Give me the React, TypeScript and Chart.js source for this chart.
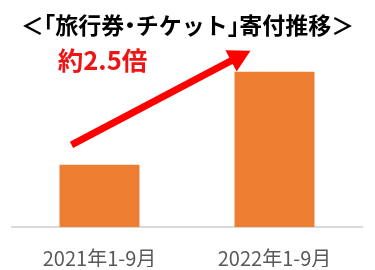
import React, { useEffect, useRef } from "react";
import { Chart, registerables } from "chart.js";

Chart.register(...registerables);

const categories = ["2021年1-9月", "2022年1-9月"];
const donationIndex = [1.0, 2.5];
const titleText = "＜「旅行券・チケット」寄付推移＞";
const growthLabel = "約2.5倍";

const BAR_COLOR = "#ED7D31";
const ARROW_COLOR = "#FF0000";
const FONT = "'Noto Sans CJK JP', 'Noto Sans', sans-serif";

// Brackets and the middle dot take a half-width cell in the heading.
const HALF_CELL: Record<string, number> = { "「": -0.5, "」": 0, "・": -0.25 };

const heading = {
  id: "heading",
  afterDraw(chart: any) {
    const ctx = chart.ctx;
    const size = 23;
    ctx.save();
    ctx.font = `bold ${size}px ${FONT}`;
    ctx.fillStyle = "#000000";
    ctx.textAlign = "left";
    ctx.textBaseline = "middle";
    const chars = Array.from(titleText);
    const adv = chars.map((c) => (c in HALF_CELL ? size * 0.5 : ctx.measureText(c).width));
    const total = adv.reduce((a, b) => a + b, 0);
    let x = chart.width / 2 - total / 2;
    chars.forEach((c, i) => {
      const shift = c in HALF_CELL ? HALF_CELL[c] * size : 0;
      ctx.fillText(c, x + shift, 25);
      x += adv[i];
    });
    ctx.restore();
  },
};

// Red growth arrow from the first bar to the second, with its caption.
const growthArrow = {
  id: "growthArrow",
  afterDatasetsDraw(chart: any) {
    const meta = chart.getDatasetMeta(0);
    const b1 = meta.data[0];
    const b2 = meta.data[1];
    if (!b1 || !b2) return;
    const w = b1.width;
    const sx = b1.x - 0.35 * w;
    const sy = b1.y - 20;
    const tx = b2.x - 0.3 * w;
    const ty = b2.y - 21;
    const dx = tx - sx;
    const dy = ty - sy;
    const len = Math.hypot(dx, dy);
    const ux = dx / len;
    const uy = dy / len;
    const nx = -uy;
    const ny = ux;
    const headLen = 22;
    const headHalf = 12;
    const bx = tx - ux * headLen;
    const by = ty - uy * headLen;
    const ctx = chart.ctx;
    ctx.save();
    ctx.strokeStyle = ARROW_COLOR;
    ctx.lineWidth = 7;
    ctx.lineCap = "butt";
    ctx.beginPath();
    ctx.moveTo(sx, sy);
    ctx.lineTo(bx + ux * 2, by + uy * 2);
    ctx.stroke();
    ctx.fillStyle = ARROW_COLOR;
    ctx.beginPath();
    ctx.moveTo(tx, ty);
    ctx.lineTo(bx + nx * headHalf, by + ny * headHalf);
    ctx.lineTo(bx - nx * headHalf, by - ny * headHalf);
    ctx.closePath();
    ctx.fill();

    ctx.fillStyle = "#EE1414";
    ctx.font = `bold 25.5px ${FONT}`;
    ctx.textAlign = "center";
    ctx.textBaseline = "middle";
    ctx.fillText(growthLabel, b1.x + 3, b2.y - 11);
    ctx.restore();
  },
};

export default function App() {
  const canvasRef = useRef<HTMLCanvasElement | null>(null);

  useEffect(() => {
    document.body.style.margin = "0";
    const canvas = canvasRef.current;
    if (!canvas) return;
    const chart = new Chart(canvas, {
      type: "bar",
      data: {
        labels: categories,
        datasets: [
          {
            data: donationIndex,
            backgroundColor: BAR_COLOR,
            borderWidth: 0,
            barPercentage: 1,
            categoryPercentage: 0.457,
          },
        ],
      },
      options: {
        animation: false,
        responsive: false,
        maintainAspectRatio: false,
        layout: { padding: { left: 12, right: 13, top: 53, bottom: 3 } },
        plugins: {
          legend: { display: false },
          tooltip: { enabled: false },
          title: { display: false },
        },
        scales: {
          x: {
            grid: { display: false, drawTicks: false },
            border: { display: true, color: "#D9D9D9", width: 2 },
            ticks: {
              color: "#595959",
              font: { family: FONT, size: 20, lineHeight: 1.2 },
              padding: 19,
            },
            afterFit(scale: any) {
              scale.height = 40;
            },
          },
          y: {
            display: false,
            min: 0,
            max: 2.8,
          },
        },
      },
      plugins: [growthArrow, heading],
    });
    return () => chart.destroy();
  }, []);

  return (
    <div style={{ position: "absolute", left: 0, top: 0, width: 375, height: 270, background: "#fff" }}>
      <canvas ref={canvasRef} width={375} height={270} style={{ width: 375, height: 270 }} />
    </div>
  );
}
